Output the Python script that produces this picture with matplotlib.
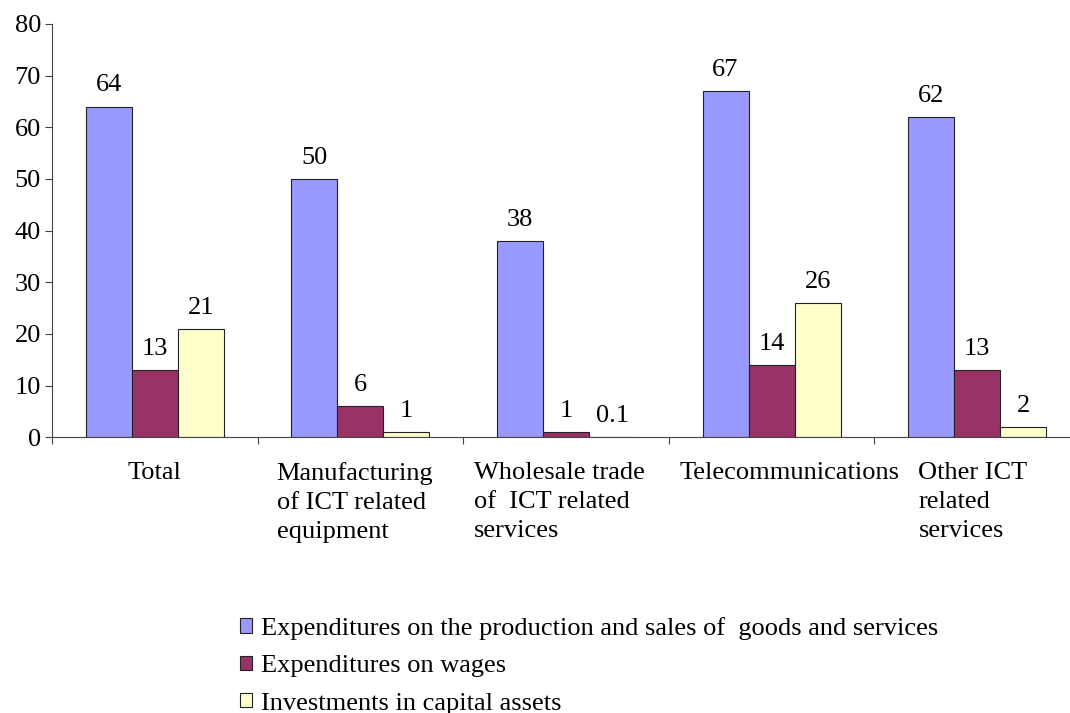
import numpy as np
import matplotlib
matplotlib.use("Agg")
import matplotlib.pyplot as plt
from matplotlib.patches import Patch
from matplotlib.transforms import offset_copy

plt.rcParams['font.family'] = ['Liberation Serif', 'DejaVu Serif']

categories = ['Total',
              'Manufacturing\nof ICT related\nequipment',
              'Wholesale trade\nof  ICT related\nservices',
              'Telecommunications',
              'Other ICT\nrelated\nservices']
series_names = ['Expenditures on the production and sales of  goods and services',
                'Expenditures on wages',
                'Investments in capital assets']
production_sales = [64, 50, 38, 67, 62]
wages = [13, 6, 1, 14, 13]
investments = [21, 1, 0.1, 26, 2]
value_labels = [['64', '50', '38', '67', '62'],
                ['13', '6', '1', '14', '13'],
                ['21', '1', '0.1', '26', '2']]
colors = ['#9999FF', '#993366', '#FFFFCC']
fs = 19

fig = plt.figure(figsize=(10.7, 7.13), dpi=100)
ax = fig.add_axes([52 / 1070, 1 - 437.3 / 713, 1028 / 1070, 413.3 / 713])

x = np.arange(len(categories))
w = 0.224
series = [production_sales, wages, investments]
for i, vals in enumerate(series):
    pos = x + (i - 1) * w
    bars = ax.bar(pos, vals, width=w, color=colors[i], edgecolor='#222222',
                  linewidth=0.8, zorder=2)
    for b, lab in zip(bars, value_labels[i]):
        ax.annotate(lab, (b.get_x() + b.get_width() / 2, b.get_height()),
                    xytext=(0, 11), textcoords='offset points',
                    ha='center', va='baseline', fontsize=fs)

ax.set_xlim(-0.5, len(categories) - 0.5)
ax.set_ylim(0, 80)
ax.set_yticks(range(0, 81, 10))
ax.tick_params(axis='y', labelsize=fs, length=5, width=0.8, color='#444444', pad=3)

# category boundaries carry the tick marks, labels sit in the middle
ax.set_xticks(np.arange(-0.5, len(categories), 1))
ax.set_xticklabels([])
ax.tick_params(axis='x', length=5, width=0.8, color='#444444')
nudge = [0, -4, -5, 13, -3]  # points
for xi, cat, dx in zip(x, categories, nudge):
    tr = offset_copy(ax.transData, fig=fig, x=dx, y=0, units='points')
    ax.text(xi, -4.8, cat, ha='center', va='top', multialignment='left',
            fontsize=fs, linespacing=1.4, transform=tr)

for s in ['top', 'right']:
    ax.spines[s].set_visible(False)
for s in ['left', 'bottom']:
    ax.spines[s].set_color('#444444')
    ax.spines[s].set_linewidth(0.8)

handles = [Patch(facecolor=c, edgecolor='#222222', linewidth=0.8) for c in colors]
fig.legend(handles, series_names, loc='upper left',
           bbox_to_anchor=(240 / 1070, 1 - 617 / 713), frameon=False,
           fontsize=fs, handlelength=0.45, handleheight=0.45,
           handletextpad=0.35, labelspacing=0.58, borderpad=0, borderaxespad=0)

fig.savefig('out.png', dpi=100)
